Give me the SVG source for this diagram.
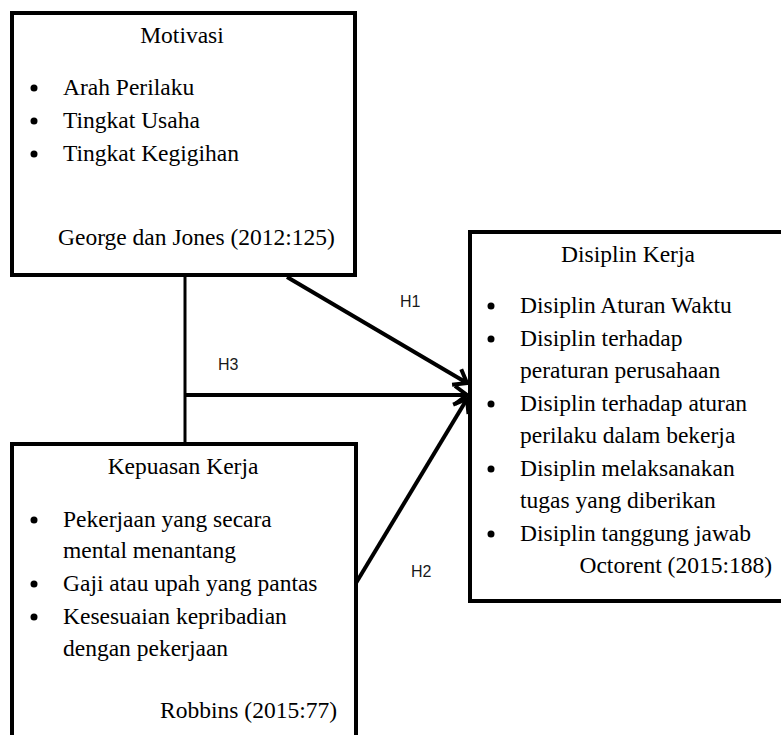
<svg xmlns="http://www.w3.org/2000/svg" width="781" height="735" viewBox="0 0 781 735">
<style>
.box{fill:#fff;stroke:#000;stroke-width:4}
text.t{font-family:'Liberation Serif','Times New Roman','DejaVu Serif',serif;font-size:23.5px;fill:#000}
.c{text-anchor:middle}
.h{font-family:'Liberation Sans',Arial,sans-serif;font-size:16px;fill:#1a1a1a}
.ln{stroke:#000;stroke-width:4;fill:none}
.b{fill:#000}
</style>
<defs>
<marker id="arr" markerUnits="userSpaceOnUse" markerWidth="24" markerHeight="24" refX="18" refY="12" orient="auto">
<path d="M6,3 L18,12 L6,21" fill="none" stroke="#000" stroke-width="4"/>
</marker>
</defs>
<rect width="781" height="735" fill="#fff"/>
<g id="connectors">
<line class="ln" x1="185" y1="276" x2="185" y2="444" style="stroke-width:3"/>
<line class="ln" x1="287" y1="277" x2="467" y2="383" marker-end="url(#arr)"/>
<line class="ln" x1="185" y1="395" x2="467" y2="395" marker-end="url(#arr)"/>
<line class="ln" x1="356" y1="583" x2="467" y2="399" marker-end="url(#arr)"/>
<text class="h" x="400" y="307">H1</text>
<text class="h" x="218" y="370">H3</text>
<text class="h" x="411" y="577">H2</text>
</g>
<g id="motivasi">
<rect class="box" x="12" y="13" width="343" height="262"/>
<text class="t c" x="182" y="43">Motivasi</text>
<circle class="b" cx="34" cy="88" r="3.5"/>
<circle class="b" cx="34" cy="121" r="3.5"/>
<circle class="b" cx="34" cy="154" r="3.5"/>
<text class="t" x="63" y="95">Arah Perilaku</text>
<text class="t" x="63" y="128">Tingkat Usaha</text>
<text class="t" x="63" y="161">Tingkat Kegigihan</text>
<text class="t" x="58" y="245">George dan Jones (2012:125)</text>
</g>
<g id="kepuasan">
<rect class="box" x="12" y="444" width="344" height="310"/>
<text class="t c" x="183" y="474">Kepuasan Kerja</text>
<circle class="b" cx="34" cy="520" r="3.5"/>
<circle class="b" cx="34" cy="584" r="3.5"/>
<circle class="b" cx="34" cy="617" r="3.5"/>
<text class="t" x="63" y="527">Pekerjaan yang secara</text>
<text class="t" x="63" y="558">mental menantang</text>
<text class="t" x="63" y="591">Gaji atau upah yang pantas</text>
<text class="t" x="63" y="624">Kesesuaian kepribadian</text>
<text class="t" x="63" y="656">dengan pekerjaan</text>
<text class="t" x="337" y="718" text-anchor="end">Robbins (2015:77)</text>
</g>
<g id="disiplin">
<rect class="box" x="470" y="232" width="330" height="369"/>
<text class="t c" x="628" y="262">Disiplin Kerja</text>
<circle class="b" cx="491" cy="306" r="3.5"/>
<circle class="b" cx="491" cy="339" r="3.5"/>
<circle class="b" cx="491" cy="404" r="3.5"/>
<circle class="b" cx="491" cy="469" r="3.5"/>
<circle class="b" cx="491" cy="534" r="3.5"/>
<text class="t" x="520" y="313">Disiplin  Aturan Waktu</text>
<text class="t" x="520" y="346">Disiplin  terhadap</text>
<text class="t" x="520" y="378">peraturan perusahaan</text>
<text class="t" x="520" y="411">Disiplin  terhadap aturan</text>
<text class="t" x="520" y="443">perilaku dalam bekerja</text>
<text class="t" x="520" y="476">Disiplin  melaksanakan</text>
<text class="t" x="520" y="508">tugas yang diberikan</text>
<text class="t" x="520" y="541">Disiplin  tanggung jawab</text>
<text class="t" x="772" y="573" text-anchor="end">Octorent (2015:188)</text>
</g>
</svg>
